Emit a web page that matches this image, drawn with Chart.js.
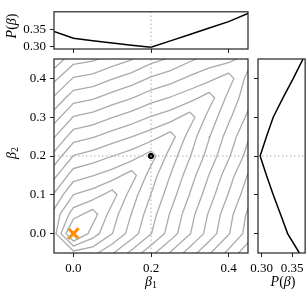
<!DOCTYPE html>
<html>
<head>
<meta charset="utf-8">
<script src="https://cdn.jsdelivr.net/npm/chart.js@4.4.1/dist/chart.umd.min.js"></script>
<style>
  html, body { margin: 0; padding: 0; background: #fff; }
  #wrap { position: relative; width: 308px; height: 295px; }
  canvas { position: absolute; left: 0; top: 0; }
</style>
</head>
<body>
<div id="wrap">
  <canvas id="main" width="308" height="295"></canvas>
  <canvas id="top" width="308" height="295"></canvas>
  <canvas id="right" width="308" height="295"></canvas>
</div>
<script>
// grid of beta values (both axes)
const beta = [-0.05, 0, 0.05, 0.1, 0.15, 0.2, 0.25, 0.3, 0.35, 0.4, 0.45];
// P(beta) along beta2 = 0.2 (top) and along beta1 = 0.2 (right)
const pBeta1 = [0.344, 0.324, 0.3165, 0.310, 0.304, 0.298, 0.3165, 0.335, 0.3535, 0.372, 0.396];
const pBeta2 = [0.362, 0.3427, 0.331, 0.319, 0.308, 0.2975, 0.308, 0.319, 0.335, 0.352, 0.368];

const betaTrue = [0.2, 0.2];
const betaHat = [0, 0];

// surface behind the contours, rows = beta2, columns = beta1 (arbitrary units)
const surface = [
  [4.30, 3.90, 4.20, 5.39, 6.79, 8.19, 9.59, 10.98, 12.38, 13.78, 15.18],
  [3.90, 0.00, 1.99, 3.48, 4.97, 6.46, 7.95, 9.44, 10.93, 12.42, 13.91],
  [4.20, 1.99, 1.00, 3.02, 4.54, 6.06, 7.58, 9.10, 10.62, 12.14, 13.66],
  [5.39, 3.48, 3.02, 2.00, 4.01, 5.52, 7.03, 8.54, 10.05, 11.56, 13.07],
  [6.79, 4.97, 4.54, 4.01, 3.00, 5.01, 6.52, 8.03, 9.54, 11.05, 12.56],
  [8.19, 6.46, 6.06, 5.52, 5.01, 4.00, 5.97, 7.44, 8.91, 10.38, 11.85],
  [9.59, 7.95, 7.58, 7.03, 6.52, 5.97, 5.00, 6.97, 8.44, 9.91, 11.38],
  [10.98, 9.44, 9.10, 8.54, 8.03, 7.44, 6.97, 6.00, 7.90, 9.30, 10.70],
  [12.38, 10.93, 10.62, 10.05, 9.54, 8.91, 8.44, 7.90, 7.00, 8.80, 10.10],
  [13.78, 12.42, 12.14, 11.56, 11.05, 10.38, 9.91, 9.30, 8.80, 8.00, 9.85],
  [15.18, 13.91, 13.66, 13.07, 12.56, 11.85, 11.38, 10.70, 10.10, 9.85, 9.00]
];
const levels = [1.5, 2.5, 3.5, 4.5, 5.5, 6.5, 7.5, 8.5, 9.5, 10.5, 11.5, 12.5, 13.5, 14.5];

const mainTicks = [0, 0.2, 0.4];
const mainYTicks = [0, 0.1, 0.2, 0.3, 0.4];
const pTicks = [0.30, 0.35];

const lo = -0.05, hi = 0.45;
const topMin = 0.293, topMax = 0.4005;
const rightMin = 0.294, rightMax = 0.3715;

Chart.defaults.font.family = "'Liberation Serif', 'DejaVu Serif', serif";
Chart.defaults.font.size = 13;
Chart.defaults.color = '#000';

const ink = '#222';
const guide = '#aaaaaa';

// marching squares over the surface grid, one list of segments per level
function contourLine(level) {
  const out = [];
  const gap = { x: NaN, y: NaN };
  for (let j = 0; j < beta.length - 1; j++) {
    for (let i = 0; i < beta.length - 1; i++) {
      const c = [[i, j], [i + 1, j], [i + 1, j + 1], [i, j + 1]];
      const v = c.map(p => surface[p[1]][p[0]]);
      const hit = [];
      for (let e = 0; e < 4; e++) {
        const a = v[e], b = v[(e + 1) % 4];
        if ((a < level) !== (b < level)) {
          const f = (level - a) / (b - a);
          const p = c[e], q = c[(e + 1) % 4];
          hit.push({
            x: beta[p[0]] + f * (beta[q[0]] - beta[p[0]]),
            y: beta[p[1]] + f * (beta[q[1]] - beta[p[1]])
          });
        }
      }
      if (hit.length === 2) {
        out.push(hit[0], hit[1], gap);
      } else if (hit.length === 4) {
        const mid = (v[0] + v[1] + v[2] + v[3]) / 4;
        if ((mid < level) === (v[0] < level)) out.push(hit[0], hit[1], gap, hit[2], hit[3], gap);
        else out.push(hit[3], hit[0], gap, hit[1], hit[2], gap);
      }
    }
  }
  return out;
}

const frame = {
  id: 'frame',
  afterDatasetsDraw(chart) {
    const { ctx, chartArea: a } = chart;
    ctx.save();
    ctx.strokeStyle = ink;
    ctx.lineWidth = 1.2;
    ctx.strokeRect(a.left, a.top, a.right - a.left, a.bottom - a.top);
    ctx.restore();
  }
};

function label(ctx, x, y, rot, parts) {
  ctx.save();
  ctx.translate(x, y);
  ctx.rotate(rot);
  ctx.fillStyle = '#000';
  ctx.textBaseline = 'middle';
  let w = 0;
  parts.forEach(p => { ctx.font = p.f; w += ctx.measureText(p.t).width; });
  let cx = -w / 2;
  parts.forEach(p => {
    ctx.font = p.f;
    ctx.fillText(p.t, cx, p.dy || 0);
    cx += ctx.measureText(p.t).width;
  });
  ctx.restore();
}

const it = "italic 14px 'Liberation Serif', serif";
const rm = "14px 'Liberation Serif', serif";
const sub = "10px 'Liberation Serif', serif";

const titles = {
  id: 'titles',
  afterDraw(chart) {
    const ctx = chart.ctx;
    label(ctx, 151, 282, 0, [{ t: 'β', f: it }, { t: '1', f: sub, dy: 3 }]);
    label(ctx, 12, 153, -Math.PI / 2, [{ t: 'β', f: it }, { t: '2', f: sub, dy: 3 }]);
    label(ctx, 12, 26, -Math.PI / 2, [{ t: 'P', f: it }, { t: '(', f: rm }, { t: 'β', f: it }, { t: ')', f: rm }]);
    label(ctx, 283, 282, 0, [{ t: 'P', f: it }, { t: '(', f: rm }, { t: 'β', f: it }, { t: ')', f: rm }]);
  }
};

function axis(min, max, ticks, fmt, fit) {
  return {
    type: 'linear', min: min, max: max,
    afterFit: fit,
    afterBuildTicks: s => { s.ticks = ticks.map(v => ({ value: v })); },
    grid: { drawOnChartArea: false, drawTicks: true, tickLength: 4, color: ink, lineWidth: 1 },
    border: { display: false },
    ticks: { callback: fmt, padding: 4, maxRotation: 0, autoSkip: false }
  };
}

const f1 = v => v.toFixed(1);
const f2 = v => v.toFixed(2);
const none = () => '';

const contours = levels.map(l => ({
  data: contourLine(l), showLine: true, spanGaps: false, borderColor: guide, borderWidth: 1.3,
  borderCapStyle: 'round', borderJoinStyle: 'round', pointRadius: 0, tension: 0, clip: 0
}));

const dotted = { showLine: true, borderColor: guide, borderWidth: 1, borderDash: [1.5, 2.5], pointRadius: 0, clip: 0 };

new Chart('main', {
  type: 'scatter',
  data: {
    datasets: [
      Object.assign({ data: [{ x: betaTrue[0], y: lo }, { x: betaTrue[0], y: hi }] }, dotted),
      Object.assign({ data: [{ x: lo, y: betaTrue[1] }, { x: hi, y: betaTrue[1] }] }, dotted),
      ...contours,
      { data: [{ x: betaTrue[0], y: betaTrue[1] }], pointRadius: 2.7, backgroundColor: '#000', borderColor: '#000', borderWidth: 1, clip: false },
      { data: [{ x: betaHat[0], y: betaHat[1] }], pointStyle: 'crossRot', pointRadius: 7.5, borderColor: '#ff8c00', borderWidth: 3, clip: false }
    ]
  },
  options: {
    responsive: false, animation: false,
    layout: { padding: { left: 0, top: 59, right: 60, bottom: 0 } },
    plugins: { legend: { display: false }, tooltip: { enabled: false } },
    scales: {
      x: axis(lo, hi, mainTicks, f1, s => { s.height = 42; }),
      y: axis(lo, hi, mainYTicks, f1, s => { s.width = 54; })
    }
  },
  plugins: [frame, titles]
});

new Chart('top', {
  type: 'scatter',
  data: {
    datasets: [
      Object.assign({ data: [{ x: betaTrue[0], y: topMin }, { x: betaTrue[0], y: topMax }] }, dotted),
      { data: beta.map((b, i) => ({ x: b, y: pBeta1[i] })), showLine: true, borderColor: '#000', borderWidth: 1.5, pointRadius: 0, tension: 0, clip: 0 }
    ]
  },
  options: {
    responsive: false, animation: false,
    layout: { padding: { left: 0, top: 1, right: 60, bottom: 0 } },
    plugins: { legend: { display: false }, tooltip: { enabled: false } },
    scales: {
      x: axis(lo, hi, mainTicks, none, s => { s.height = 246; }),
      y: axis(topMin, topMax, pTicks, f2, s => { s.width = 54; })
    }
  },
  plugins: [frame]
});

new Chart('right', {
  type: 'scatter',
  data: {
    datasets: [
      Object.assign({ data: [{ x: rightMin, y: betaTrue[1] }, { x: rightMax, y: betaTrue[1] }] }, dotted),
      { data: beta.map((b, i) => ({ x: pBeta2[i], y: b })), showLine: true, borderColor: '#000', borderWidth: 1.5, pointRadius: 0, tension: 0, clip: 0 }
    ]
  },
  options: {
    responsive: false, animation: false,
    layout: { padding: { left: 254, top: 59, right: 2, bottom: 0 } },
    plugins: { legend: { display: false }, tooltip: { enabled: false } },
    scales: {
      x: axis(rightMin, rightMax, pTicks, f2, s => { s.height = 42; }),
      y: axis(lo, hi, mainYTicks, none, s => { s.width = 4; })
    }
  },
  plugins: [frame]
});
</script>
</body>
</html>
